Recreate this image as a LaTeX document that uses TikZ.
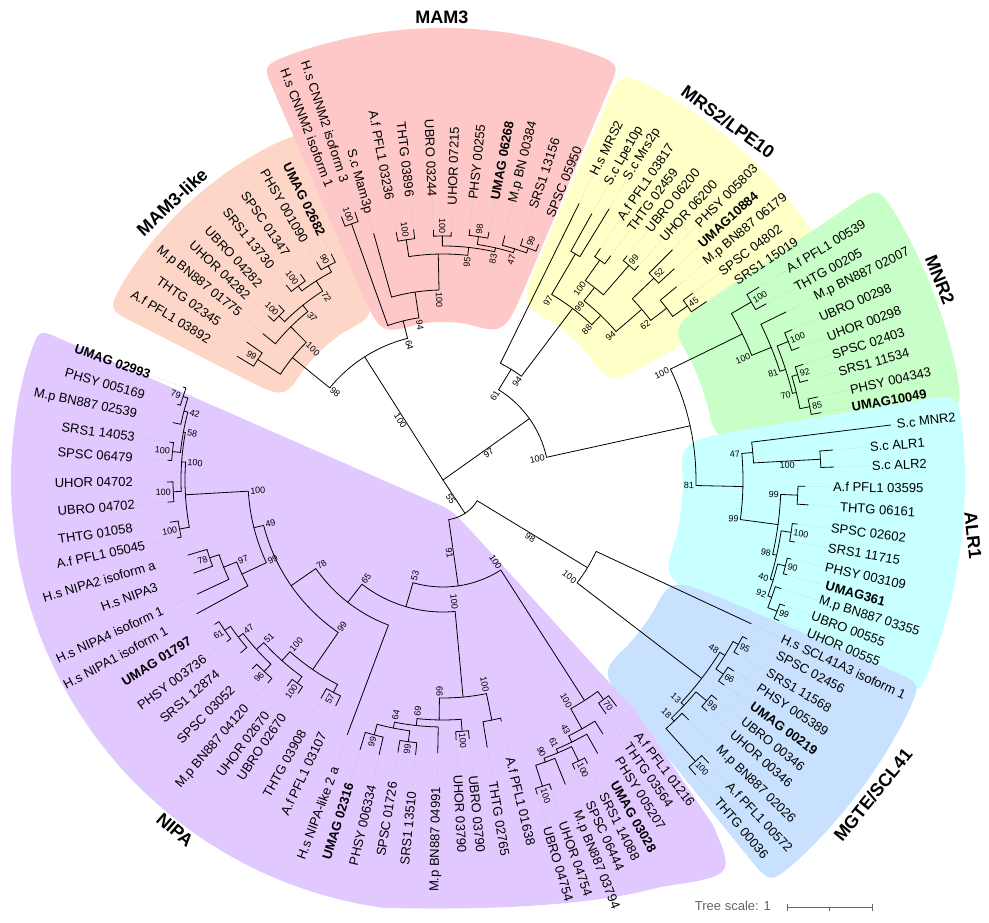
\documentclass[tikz,border=0pt]{standalone}
\usepackage{fontspec}
\setmainfont{Liberation Sans}
\usetikzlibrary{calc}

\definecolor{rngMAMlike}{RGB}{253,214,200}
\definecolor{rngMAM}{RGB}{255,200,200}
\definecolor{rngMRS}{RGB}{255,255,200}
\definecolor{rngMNR}{RGB}{200,255,200}
\definecolor{rngALR}{RGB}{200,255,255}
\definecolor{rngMGTE}{RGB}{200,225,255}
\definecolor{rngNIPA}{RGB}{225,200,255}

\tikzset{
  branch/.style={line width=0.8pt, line cap=round},
  leader/.style={draw=black!30, dotted, line width=0.5pt},
  leaflbl/.style={inner sep=0pt, font=\fontsize{13}{13}\selectfont},
  leafbold/.style={font=\fontsize{13}{13}\selectfont\bfseries},
  boot/.style={inner sep=0.8pt, font=\fontsize{9}{9}\selectfont},
  cladettl/.style={inner sep=0pt, font=\fontsize{18}{18}\selectfont\bfseries},
}

\makeatletter
\newcommand\setv[3]{\expandafter\xdef\csname tr@#1@#2\endcsname{#3}}
\newcommand\getv[2]{\csname tr@#1@#2\endcsname}
\def\tr@I{i}\def\tr@M{m}\def\tr@O{o}
% feuille: [style]{id}{angle}{rayon bout}{rayon texte}{texte}
\newcommand\lf[6][]{%
  \setv{a}{#2}{#3}\setv{r}{#2}{#4}\setv{s}{#2}{}\setv{p}{#2}{}%
  \draw[leader] (#3:#4pt) -- (#3:#5pt);
  \pgfmathsetmacro\tr@c{cos(#3)}%
  \ifdim\tr@c pt<0pt
    \node[leaflbl,#1,anchor=east,rotate=#3+180] (l-#2) at (#3:#5pt) {#6};
  \else
    \node[leaflbl,#1,anchor=west,rotate=#3] (l-#2) at (#3:#5pt) {#6};
  \fi
}
% valeur de bootstrap d'un fils
\newcommand\trboot[3]{%
  \edef\tr@s{\getv{s}{#1}}%
  \ifx\tr@s\empty\else
    \edef\tr@p{\getv{p}{#1}}\edef\tr@cr{\getv{r}{#1}}%
    \pgfmathsetmacro\tr@c{cos(#2)}%
    \ifdim\tr@c pt<0pt \def\tr@rot{180}\else\def\tr@rot{0}\fi
    \ifx\tr@p\tr@O
      \pgfmathsetmacro\tr@q{\tr@cr+1.5}%
      \ifdim\tr@c pt<0pt \def\tr@anc{east}\else\def\tr@anc{west}\fi
    \else\ifx\tr@p\tr@M
      \pgfmathsetmacro\tr@q{(#3+\tr@cr)/2}\def\tr@anc{north}%
    \else
      \pgfmathsetmacro\tr@q{#3-1}%
      \ifdim\tr@c pt<0pt \def\tr@anc{west}\else\def\tr@anc{east}\fi
    \fi\fi
    \node[boot,anchor=\tr@anc,rotate=#2+\tr@rot] (s-#1) at (#2:\tr@q pt) {\tr@s};
  \fi
}
% noeud: {id}{rayon}{fils 1}{fils 2}{bootstrap}{position i/m/o}
\newcommand\nd[6]{%
  \edef\tr@a{\getv{a}{#3}}\edef\tr@b{\getv{a}{#4}}%
  \edef\tr@ra{\getv{r}{#3}}\edef\tr@rb{\getv{r}{#4}}%
  \draw[branch] (\tr@a:\tr@ra pt) -- (\tr@a:#2pt)
    arc[start angle=\tr@a, end angle=\tr@b, radius=#2pt] -- (\tr@b:\tr@rb pt);
  \pgfmathsetmacro\tr@m{(\tr@a+\tr@b)/2}%
  \setv{a}{#1}{\tr@m}\setv{r}{#1}{#2}\setv{s}{#1}{#5}\setv{p}{#1}{#6}%
  \coordinate (n-#1) at (\tr@m:#2pt);
  \trboot{#3}{\tr@a}{#2}\trboot{#4}{\tr@b}{#2}%
}
\newcommand\spoke[1]{%
  \edef\tr@a{\getv{a}{#1}}\edef\tr@ra{\getv{r}{#1}}%
  \draw[branch] (root) -- (\tr@a:\tr@ra pt);
  \trboot{#1}{\tr@a}{0}%
}
% secteur colore: {couleur}{a1}{a2}{rin}{rout}{coupe ext}{angle ext}{coupe int}{angle int}
\newcommand\rng[9]{%
  \pgfmathsetmacro\tr@ao{#2+#7}\pgfmathsetmacro\tr@bo{#3-#7}%
  \pgfmathsetmacro\tr@ai{#2+#9}\pgfmathsetmacro\tr@bi{#3-#9}%
  \pgfmathsetmacro\tr@ro{#5-#6}\pgfmathsetmacro\tr@ri{#4+#8}%
  \fill[#1] (#2:\tr@ri pt) -- (#2:\tr@ro pt) .. controls (#2:#5pt) .. (\tr@ao:#5pt)
    arc[start angle=\tr@ao, end angle=\tr@bo, radius=#5pt]
    .. controls (#3:#5pt) .. (#3:\tr@ro pt) -- (#3:\tr@ri pt)
    .. controls (#3:#4pt) .. (\tr@bi:#4pt)
    arc[start angle=\tr@bi, end angle=\tr@ai, radius=#4pt]
    .. controls (#2:#4pt) .. (#2:\tr@ri pt) -- cycle;
}
\makeatother

\begin{document}
\begin{tikzpicture}[x=1pt,y=1pt]
  \useasboundingbox (-443,-442) rectangle (546,480);
  \coordinate (root) at (0,0);

  % zones des familles
  \rng{rngMAMlike}{112}{153}{178}{376}{30}{5}{50}{12}
  \rng{rngMAM}{67}{113.5}{158}{452}{25}{4}{60}{15}
  \rng{rngMRS}{29.5}{66.5}{192}{445}{35}{5}{60}{12}
  \rng{rngMNR}{8}{34}{275}{525}{35}{4}{60}{8}
  \rng{rngALR}{-24.5}{9.5}{240}{522}{35}{4}{90}{10}
  \rng{rngMGTE}{309}{337}{248}{520}{35}{4}{70}{9}
  \fill[rngNIPA] (-10,-22) -- (-389,144) .. controls (159.6:432pt) .. (165:432pt)
    arc[start angle=165, end angle=262, radius=432pt]
    .. controls (277:434pt) and (290:452pt) .. (217,-407)
    .. controls (292,-396) .. (270,-345) -- (194,-233) -- (40,-64)
    .. controls (9,-30) .. (-10,-22) -- cycle;

  % MAM3-like
  \lf[leafbold]{UMAG02682}{116.3}{252}{273}{UMAG 02682}
  \lf{PHSY001090}{120.1}{252}{275}{PHSY 001090}
  \lf{SPSC01347}{124.7}{250}{274}{SPSC 01347}
  \lf{SRS113730}{128.8}{250}{273}{SRS1 13730}
  \lf{UBRO04282}{133.2}{240}{267}{UBRO 04282}
  \lf{UHOR04282}{136.8}{240}{267}{UHOR 04282}
  \lf{Mp01775}{140.9}{232}{262}{M.p BN887 01775}
  \lf{THTG02345}{144.9}{240}{273}{THTG 02345}
  \lf{Af03892}{149.0}{240}{272}{A.f PFL1 03892}
  \nd{ml90}{243}{UMAG02682}{PHSY001090}{90}{o}
  \nd{ml100a}{242}{SPSC01347}{SRS113730}{100}{o}
  \nd{ml72}{236}{ml90}{ml100a}{72}{i}
  \nd{ml100b}{232}{UBRO04282}{UHOR04282}{100}{o}
  \nd{ml37}{224}{ml72}{ml100b}{37}{i}
  \nd{ml100c}{216}{ml37}{Mp01775}{100}{i}
  \nd{ml99}{221}{THTG02345}{Af03892}{99}{o}
  \nd{mlroot}{194}{ml100c}{ml99}{98}{i}

  % MAM3
  \lf{HsCNNMa}{111.1}{282}{314}{H.s CNNM2 isoform 1}
  \lf{HsCNNMb}{108.2}{282}{314}{H.s CNNM2 isoform 3}
  \lf{ScMam3p}{105.7}{256}{277}{S.c Mam3p}
  \lf{Af03236}{100.7}{252}{285}{A.f PFL1 03236}
  \lf{THTG03896}{96.7}{252}{285}{THTG 03896}
  \lf{UBRO03244}{92.2}{250}{283}{UBRO 03244}
  \lf{UHOR07215}{88.1}{248}{275}{UHOR 07215}
  \lf{PHSY00255}{83.9}{252}{282}{PHSY 00255}
  \lf[leafbold]{UMAG06268}{79.5}{252}{285}{UMAG 06268}
  \lf{Mp00384}{75.8}{252}{286}{M.p BN 00384}
  \lf{SRS113156}{71.7}{254}{286}{SRS1 13156}
  \lf{SPSC05950}{67.9}{254}{284}{SPSC 05950}
  \nd{mhs}{272}{HsCNNMa}{HsCNNMb}{100}{o}
  \nd{mat}{243}{Af03236}{THTG03896}{100}{o}
  \nd{muu}{244}{UBRO03244}{UHOR07215}{100}{o}
  \nd{m98}{246}{PHSY00255}{UMAG06268}{98}{o}
  \nd{m99}{247}{SRS113156}{SPSC05950}{99}{o}
  \nd{m47}{242}{Mp00384}{m99}{47}{i}
  \nd{m83}{238}{m98}{m47}{83}{i}
  \nd{mG}{234}{muu}{m83}{95}{i}
  \nd{mF}{226}{mat}{mG}{100}{i}
  \nd{m94}{190}{ScMam3p}{mF}{94}{i}
  \nd{mB}{164}{mhs}{m94}{64}{i}
  \nd{nA}{146}{mlroot}{mB}{100}{m}

  % MRS2/LPE10
  \lf{HsMRS2}{63.8}{308}{340}{H.s MRS2}
  \lf{ScLpe10p}{60.8}{305}{338}{S.c Lpe10p}
  \lf{ScMrs2p}{58.5}{318}{352}{S.c Mrs2p}
  \lf{Af03817}{55.8}{280}{315}{A.f PFL1 03817}
  \lf{THTG02459}{53.2}{280}{312}{THTG 02459}
  \lf{UBRO06200}{50.6}{290}{323}{UBRO 06200}
  \lf{UHOR06200}{47.6}{290}{325}{UHOR 06200}
  \lf{PHSY005803}{45.1}{325}{360}{PHSY 005803}
  \lf[leafbold]{UMAG10884}{42.4}{313}{348}{UMAG10884}
  \lf{Mp06179}{39.6}{303}{340}{M.p BN887 06179}
  \lf{SPSC04802}{36.8}{312}{346}{SPSC 04802}
  \lf{SRS115019}{34.1}{318}{353}{SRS1 15019}
  \nd{rsc}{262}{ScLpe10p}{ScMrs2p}{97}{i}
  \nd{r100}{270}{Af03817}{THTG02459}{100}{i}
  \nd{r99u}{284}{UBRO06200}{UHOR06200}{99}{o}
  \nd{r99a}{245}{r100}{r99u}{99}{i}
  \nd{r52}{292}{PHSY005803}{UMAG10884}{52}{o}
  \nd{r45}{300}{SPSC04802}{SRS115019}{45}{o}
  \nd{r62}{282}{Mp06179}{r45}{62}{i}
  \nd{r94}{262}{r52}{r62}{94}{i}
  \nd{rMD}{228}{r99a}{r94}{88}{i}
  \nd{rMB}{215}{rsc}{rMD}{94}{i}
  \nd{rM1}{130}{HsMRS2}{rMB}{61}{i}

  % MNR2
  \lf{Af00539}{31.4}{370}{403}{A.f PFL1 00539}
  \lf{THTG00205}{28.6}{368}{401}{THTG 00205}
  \lf{Mp02007}{26.1}{382}{414}{M.p BN887 02007}
  \lf{UBRO00298}{23.3}{380}{410}{UBRO 00298}
  \lf{UHOR00298}{20.4}{380}{410}{UHOR 00298}
  \lf{SPSC02403}{17.8}{378}{409}{SPSC 02403}
  \lf{SRS111534}{15.3}{378}{410}{SRS1 11534}
  \lf{PHSY004343}{12.5}{384}{417}{PHSY 004343}
  \lf[leafbold]{UMAG10049}{10.1}{384}{415}{UMAG10049}
  \nd{g100a}{356}{Af00539}{THTG00205}{100}{o}
  \nd{g100b}{372}{UBRO00298}{UHOR00298}{100}{o}
  \nd{g92}{370}{SPSC02403}{SRS111534}{92}{o}
  \nd{g85}{374}{PHSY004343}{UMAG10049}{85}{o}
  \nd{g70}{364}{g92}{g85}{70}{i}
  \nd{g81}{360}{g100b}{g70}{81}{i}
  \nd{gZ}{354}{Mp02007}{g81}{100}{i}
  \nd{groot}{333}{g100a}{gZ}{100}{i}

  % ALR1
  \lf{ScMNR2}{7.0}{451}{457}{S.c MNR2}
  \lf{ScALR1}{4.4}{391}{428}{S.c ALR1}
  \lf{ScALR2}{1.9}{391}{429}{S.c ALR2}
  \lf{Af03595}{-1.0}{362}{390}{A.f PFL1 03595}
  \lf{THTG06161}{-3.9}{366}{398}{THTG 06161}
  \lf{SPSC02602}{-7.1}{357}{391}{SPSC 02602}
  \lf{SRS111715}{-10.0}{357}{391}{SRS1 11715}
  \lf{PHSY003109}{-12.8}{357}{392}{PHSY 003109}
  \lf[leafbold]{UMAG361}{-15.4}{357}{397}{UMAG361}
  \lf{Mp03355}{-17.8}{355}{395}{M.p BN887 03355}
  \lf{UBRO00555}{-20.2}{364}{393}{UBRO 00555}
  \lf{UHOR00555}{-22.7}{364}{395}{UHOR 00555}
  \nd{c100a}{378}{ScALR1}{ScALR2}{100}{m}
  \nd{cSc}{311}{ScMNR2}{c100a}{47}{i}
  \nd{c99b}{355}{Af03595}{THTG06161}{99}{i}
  \nd{c100b}{352}{SPSC02602}{SRS111715}{100}{o}
  \nd{c90}{353}{PHSY003109}{UMAG361}{90}{o}
  \nd{c99c}{359}{UBRO00555}{UHOR00555}{99}{o}
  \nd{c92}{349}{Mp03355}{c99c}{92}{i}
  \nd{c40}{345}{c90}{c92}{40}{i}
  \nd{c98}{342}{c100b}{c40}{98}{i}
  \nd{c99a}{338}{c99b}{c98}{99}{i}
  \nd{croot}{300}{cSc}{c99a}{81}{i}
  \nd{nY}{253}{groot}{croot}{100}{i}
  \nd{nX}{106}{rM1}{nY}{97}{m}

  % MGTE/SCL41
  \lf{HsSCL}{335.0}{340}{374}{H.s SCL41A3 isoform 1}
  \lf{SPSC02456}{332.4}{343}{377}{SPSC 02456}
  \lf{SRS111568}{329.4}{343}{377}{SRS1 11568}
  \lf{PHSY005389}{326.7}{348}{377}{PHSY 005389}
  \lf[leafbold]{UMAG00219}{323.9}{348}{382}{UMAG 00219}
  \lf{UBRO00346}{321.3}{351}{384}{UBRO 00346}
  \lf{UHOR00346}{318.8}{351}{384}{UHOR 00346}
  \lf{Mp02026}{315.7}{343}{384}{M.p BN887 02026}
  \lf{Af00572}{313.2}{388}{417}{A.f PFL1 00572}
  \lf{THTG00036}{310.6}{388}{421}{THTG 00036}
  \nd{b95}{338}{SPSC02456}{SRS111568}{95}{o}
  \nd{b66}{341}{PHSY005389}{UMAG00219}{66}{o}
  \nd{b48}{332}{b95}{b66}{48}{i}
  \nd{b98}{344}{UBRO00346}{UHOR00346}{98}{o}
  \nd{b100}{378}{Af00572}{THTG00036}{100}{o}
  \nd{b18}{334}{Mp02026}{b100}{18}{i}
  \nd{b13}{330}{b98}{b18}{13}{i}
  \nd{broot}{326}{b48}{b13}{100}{i}
  \nd{bP}{169}{HsSCL}{broot}{98}{m}

  % NIPA
  \lf[leafbold]{UMAG02993}{160.3}{276}{311}{UMAG 02993}
  \lf{PHSY005169}{164.1}{276}{310}{PHSY 005169}
  \lf{Mp02539}{168.0}{276}{313}{M.p BN887 02539}
  \lf{SRS114053}{172.1}{276}{311}{SRS1 14053}
  \lf{SPSC06479}{175.9}{276}{311}{SPSC 06479}
  \lf{UHOR04702}{180.4}{276}{310}{UHOR 04702}
  \lf{UBRO04702}{184.6}{276}{309}{UBRO 04702}
  \lf{THTG01058}{188.8}{276}{314}{THTG 01058}
  \lf{Af05045}{192.3}{272}{305}{A.f PFL1 05045}
  \lf{HsNIPA2}{196.4}{266}{300}{H.s NIPA2 isoform a}
  \lf{HsNIPA3}{200.5}{266}{305}{H.s NIPA3}
  \lf{HsNIPA4}{204.9}{271}{309}{H.s NIPA4 isoform 1}
  \lf{HsNIPA1}{208.5}{280}{314}{H.s NIPA1 isoform 1}
  \lf[leafbold]{UMAG01797}{212.3}{270}{299}{UMAG 01797}
  \lf{PHSY003736}{216.8}{270}{297}{PHSY 003736}
  \lf{SRS112874}{220.5}{266}{296}{SRS1 12874}
  \lf{SPSC03052}{224.7}{268}{296}{SPSC 03052}
  \lf{Mp04120}{229.2}{268}{300}{M.p BN887 04120}
  \lf{UHOR02670}{232.9}{258}{292}{UHOR 02670}
  \lf{UBRO02670}{235.8}{258}{284}{UBRO 02670}
  \lf{THTG03908}{240.8}{250}{287}{THTG 03908}
  \lf{Af03107}{244.6}{250}{280}{A.f PFL1 03107}
  \lf{HsNIPAL}{249.4}{272}{307}{H.s NIPA-like 2 a}
  \lf[leafbold]{UMAG02316}{252.9}{282}{317}{UMAG 02316}
  \lf{PHSY006334}{256.9}{282}{313}{PHSY 006334}
  \lf{SPSC01726}{260.6}{276}{306}{SPSC 01726}
  \lf{SRS113510}{264.3}{276}{313}{SRS1 13510}
  \lf{Mp04991}{268.9}{273}{307}{M.p BN887 04991}
  \lf{UHOR03790}{272.9}{260}{295}{UHOR 03790}
  \lf{UBRO03790}{275.8}{260}{297}{UBRO 03790}
  \lf{THTG02765}{279.4}{271}{306}{THTG 02765}
  \lf{Af01638}{283.6}{248}{285}{A.f PFL1 01638}
  \lf{UBRO04754}{286.7}{328}{362}{UBRO 04754}
  \lf{UHOR04754}{289.3}{328}{362}{UHOR 04754}
  \lf{Mp03794}{291.9}{328}{357}{M.p BN887 03794}
  \lf{SPSC06444}{294.5}{318}{353}{SPSC 06444}
  \lf{SRS114088}{297.0}{318}{352}{SRS1 14088}
  \lf[leafbold]{UMAG03028}{299.5}{314}{347}{UMAG 03028}
  \lf{PHSY005207}{302.2}{300}{329}{PHSY 005207}
  \lf{THTG03564}{304.9}{285}{322}{THTG 03564}
  \lf{Af01216}{307.5}{285}{319}{A.f PFL1 01216}
  \nd{p79}{273}{UMAG02993}{PHSY005169}{79}{o}
  \nd{p42}{268}{p79}{Mp02539}{42}{i}
  \nd{p100a}{272}{SRS114053}{SPSC06479}{100}{o}
  \nd{p58}{264}{p42}{p100a}{58}{i}
  \nd{p100b}{270}{UHOR04702}{UBRO04702}{100}{o}
  \nd{p100d}{262}{p58}{p100b}{100}{i}
  \nd{p100c}{268}{THTG01058}{Af05045}{100}{o}
  \nd{pQ}{258}{p100d}{p100c}{100}{i}
  \nd{h78}{246}{HsNIPA2}{HsNIPA3}{78}{o}
  \nd{h97}{236}{h78}{HsNIPA4}{97}{i}
  \nd{h99}{222}{h97}{HsNIPA1}{99}{i}
  \nd{n49}{195}{pQ}{h99}{49}{i}
  \nd{u61}{265}{UMAG01797}{PHSY003736}{61}{o}
  \nd{u47}{258}{u61}{SRS112874}{47}{i}
  \nd{u96}{262}{SPSC03052}{Mp04120}{96}{o}
  \nd{u51}{252}{u47}{u96}{51}{i}
  \nd{u100f}{250}{UHOR02670}{UBRO02670}{100}{o}
  \nd{u100e}{242}{u51}{u100f}{100}{i}
  \nd{u57}{239}{THTG03908}{Af03107}{57}{o}
  \nd{u99}{230}{u100e}{u57}{99}{i}
  \nd{n78}{185}{n49}{u99}{78}{i}
  \nd{n65}{155}{n78}{HsNIPAL}{65}{i}
  \nd{q99d}{264}{UMAG02316}{PHSY006334}{99}{o}
  \nd{q99e}{264}{SPSC01726}{SRS113510}{99}{o}
  \nd{q64}{253}{q99d}{q99e}{64}{i}
  \nd{q69}{247}{q64}{Mp04991}{69}{i}
  \nd{q100h}{252}{UHOR03790}{UBRO03790}{100}{o}
  \nd{q99c}{240}{q69}{q100h}{99}{i}
  \nd{q100g}{245}{THTG02765}{Af01638}{100}{i}
  \nd{qB}{218}{q99c}{q100g}{100}{i}
  \nd{n53}{132}{n65}{qB}{53}{i}
  \nd{s100k}{322}{UBRO04754}{UHOR04754}{100}{o}
  \nd{s90}{300}{s100k}{Mp03794}{90}{i}
  \nd{s100j}{312}{SPSC06444}{SRS114088}{100}{o}
  \nd{s61}{296}{s90}{s100j}{61}{i}
  \nd{s43}{292}{s61}{UMAG03028}{43}{i}
  \nd{s100i}{285}{s43}{PHSY005207}{100}{i}
  \nd{s70}{272}{THTG03564}{Af01216}{70}{o}
  \nd{sR}{262}{s100i}{s70}{100}{i}
  \nd{nN}{107}{n53}{sR}{91}{m}
  \nd{n55}{40}{nN}{bP}{55}{m}

  % racine
  \spoke{nA}
  \spoke{nX}
  \spoke{n55}

  % titres
  \node[cladettl] (ttl-mam3) at (-1,463) {MAM3};
  \node[cladettl,rotate=43] (ttl-mam3like) at (-271,278) {MAM3-like};
  \node[cladettl,rotate=-36] (ttl-mrs2) at (285,358) {MRS2/LPE10};
  \node[cladettl,rotate=-68] (ttl-mnr2) at (497,200) {MNR2};
  \node[cladettl,rotate=-84] (ttl-alr1) at (530,-55) {ALR1};
  \node[cladettl,rotate=51] (ttl-mgte) at (430,-315) {MGTE/SCL41};
  \node[cladettl,rotate=-41] (ttl-nipa) at (-268,-350) {NIPA};

  % echelle
  \node[anchor=east, inner sep=0pt, text=black!60, font=\fontsize{13}{13}\selectfont] (scaletxt) at (328,-426) {Tree scale: 1};
  \coordinate (sb-l) at (344,-427);
  \coordinate (sb-r) at (429,-427);
  \draw[black!60, line width=1pt] (sb-l) -- (sb-r);
  \draw[black!60, line width=1pt] ($(sb-l)+(0,3.5)$) -- ($(sb-l)+(0,-3.5)$);
  \draw[black!60, line width=1pt] ($(sb-r)+(0,3.5)$) -- ($(sb-r)+(0,-3.5)$);
  \draw[black!60, line width=1pt] ($(sb-l)!0.5!(sb-r)$) -- ++(0,-3.5);
\end{tikzpicture}
\end{document}
